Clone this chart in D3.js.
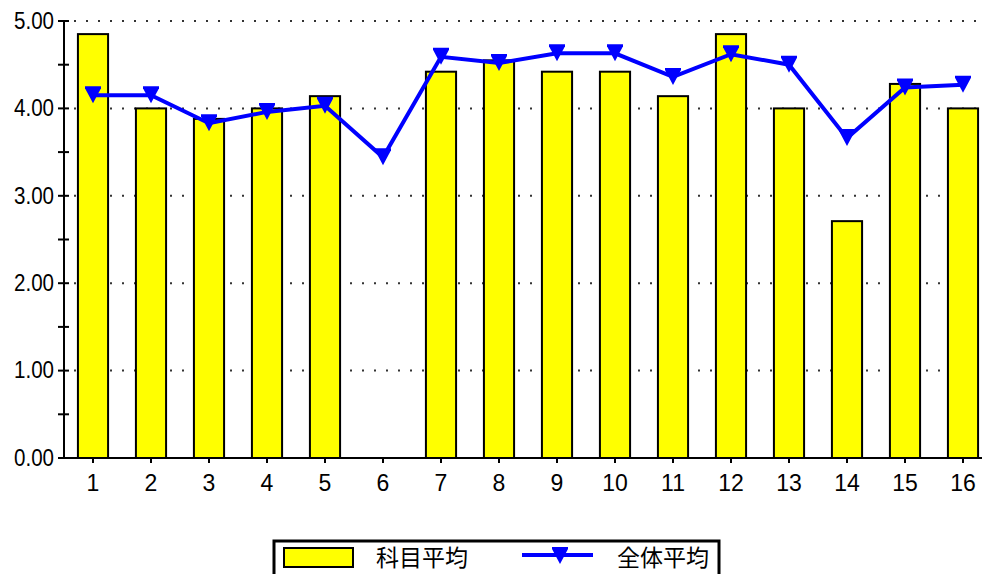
<!DOCTYPE html>
<html>
<head>
<meta charset="utf-8">
<script src="https://cdn.jsdelivr.net/npm/d3@7"></script>
<style>
  html, body { margin: 0; padding: 0; background: #fff; overflow: hidden; }
  svg { display: block; }
</style>
</head>
<body>
<div id="chart"></div>
<script>
var categories = ['1', '2', '3', '4', '5', '6', '7', '8', '9', '10', '11', '12', '13', '14', '15', '16'];
var subjectAvg = [4.85, 4.00, 3.88, 4.00, 4.14, 0, 4.42, 4.55, 4.42, 4.42, 4.14, 4.85, 4.00, 2.71, 4.28, 4.00];
var overallAvg = [4.15, 4.15, 3.83, 3.96, 4.03, 3.44, 4.59, 4.52, 4.63, 4.63, 4.36, 4.62, 4.50, 3.66, 4.24, 4.27];
var yTicks = [0, 1, 2, 3, 4, 5];
var seriesNames = ['科目平均', '全体平均'];

var width = 982, height = 574;
var plotLeft = 64, plotRight = 992, plotTop = 21, plotBottom = 458;
var numFont = '"Liberation Sans", Arial, sans-serif';
var cjkFont = '"Noto Sans CJK JP", sans-serif';

var svg = d3.select('#chart')
  .append('svg')
  .attr('width', width)
  .attr('height', height);

var x = d3.scaleBand()
  .domain(categories)
  .range([plotLeft, plotRight])
  .paddingInner(0.48)
  .paddingOuter(0.24);

var y = d3.scaleLinear()
  .domain([0, 5])
  .range([plotBottom, plotTop]);

// dotted grid lines
svg.append('g')
  .selectAll('line')
  .data(yTicks.filter(function(d) { return d > 0; }))
  .enter()
  .append('line')
  .attr('x1', plotLeft + 10)
  .attr('x2', width)
  .attr('y1', function(d) { return y(d); })
  .attr('y2', function(d) { return y(d); })
  .attr('stroke', '#333')
  .attr('stroke-width', 2)
  .attr('stroke-dasharray', '2,10');

// bars
svg.append('g')
  .selectAll('rect')
  .data(subjectAvg)
  .enter()
  .append('rect')
  .attr('x', function(d, i) { return x(categories[i]); })
  .attr('width', x.bandwidth())
  .attr('y', function(d) { return y(d); })
  .attr('height', function(d) { return plotBottom - y(d); })
  .attr('fill', d3.rgb(255, 255, 0))
  .attr('stroke', d3.rgb(0, 0, 0))
  .attr('stroke-width', 2)
  .style('display', function(d) { return d > 0 ? null : 'none'; });

// y axis
var yAxis = d3.axisLeft(y)
  .tickValues(yTicks)
  .tickSize(0)
  .tickPadding(10)
  .tickFormat(d3.format('.2f'));

var ya = svg.append('g')
  .attr('transform', 'translate(' + plotLeft + ',0)')
  .call(yAxis);
ya.select('.domain').remove();
ya.selectAll('text')
  .attr('font-family', numFont)
  .attr('font-size', 23)
  .attr('textLength', 40)
  .attr('lengthAdjust', 'spacingAndGlyphs')
  .attr('fill', '#000');

svg.append('line')
  .attr('x1', plotLeft).attr('x2', plotLeft)
  .attr('y1', plotTop).attr('y2', plotBottom)
  .attr('stroke', '#000').attr('stroke-width', 2);

svg.append('g')
  .selectAll('line')
  .data(y.ticks(10))
  .enter()
  .append('line')
  .attr('x1', plotLeft - 6)
  .attr('x2', plotLeft + 5)
  .attr('y1', function(d) { return y(d); })
  .attr('y2', function(d) { return y(d); })
  .attr('stroke', '#000')
  .attr('stroke-width', 2);

// x axis
var xAxis = d3.axisBottom(x)
  .tickSize(5)
  .tickPadding(12)
  .tickSizeOuter(0);

var xa = svg.append('g')
  .attr('transform', 'translate(0,' + plotBottom + ')')
  .call(xAxis);
xa.select('.domain').remove();
xa.selectAll('line').attr('stroke', '#000').attr('stroke-width', 2);
xa.selectAll('text')
  .attr('font-family', numFont)
  .attr('font-size', 23)
  .attr('fill', '#000');

svg.append('line')
  .attr('x1', plotLeft - 1).attr('x2', width)
  .attr('y1', plotBottom).attr('y2', plotBottom)
  .attr('stroke', '#000').attr('stroke-width', 2);

// overall average line
var cx = function(d, i) { return x(categories[i]) + x.bandwidth() / 2; };

var line = d3.line()
  .x(cx)
  .y(function(d) { return y(d); });

svg.append('path')
  .datum(overallAvg)
  .attr('d', line)
  .attr('fill', 'none')
  .attr('stroke', d3.rgb(0, 0, 255))
  .attr('stroke-width', 4);

var marker = 'M-8,-9L8,-9L8,-7L0,8L-8,-7Z';

svg.append('g')
  .selectAll('path')
  .data(overallAvg)
  .enter()
  .append('path')
  .attr('d', marker)
  .attr('transform', function(d, i) { return 'translate(' + cx(d, i) + ',' + y(d) + ')'; })
  .attr('fill', d3.rgb(0, 0, 255));

// legend
var legend = svg.append('g');

legend.append('rect')
  .attr('x', 274)
  .attr('y', 541)
  .attr('width', 445)
  .attr('height', 50)
  .attr('fill', '#fff')
  .attr('stroke', '#000')
  .attr('stroke-width', 3);

legend.append('rect')
  .attr('x', 284)
  .attr('y', 548)
  .attr('width', 69)
  .attr('height', 19)
  .attr('fill', d3.rgb(255, 255, 0))
  .attr('stroke', '#000')
  .attr('stroke-width', 2);

legend.append('text')
  .attr('x', 376)
  .attr('y', 566)
  .attr('font-family', cjkFont)
  .attr('font-size', 23)
  .attr('fill', '#000')
  .text(seriesNames[0]);

legend.append('line')
  .attr('x1', 522).attr('x2', 593)
  .attr('y1', 555).attr('y2', 555)
  .attr('stroke', d3.rgb(0, 0, 255))
  .attr('stroke-width', 4);

legend.append('path')
  .attr('d', marker)
  .attr('transform', 'translate(560,556)')
  .attr('fill', d3.rgb(0, 0, 255));

legend.append('text')
  .attr('x', 617)
  .attr('y', 566)
  .attr('font-family', cjkFont)
  .attr('font-size', 23)
  .attr('fill', '#000')
  .text(seriesNames[1]);
</script>
</body>
</html>
